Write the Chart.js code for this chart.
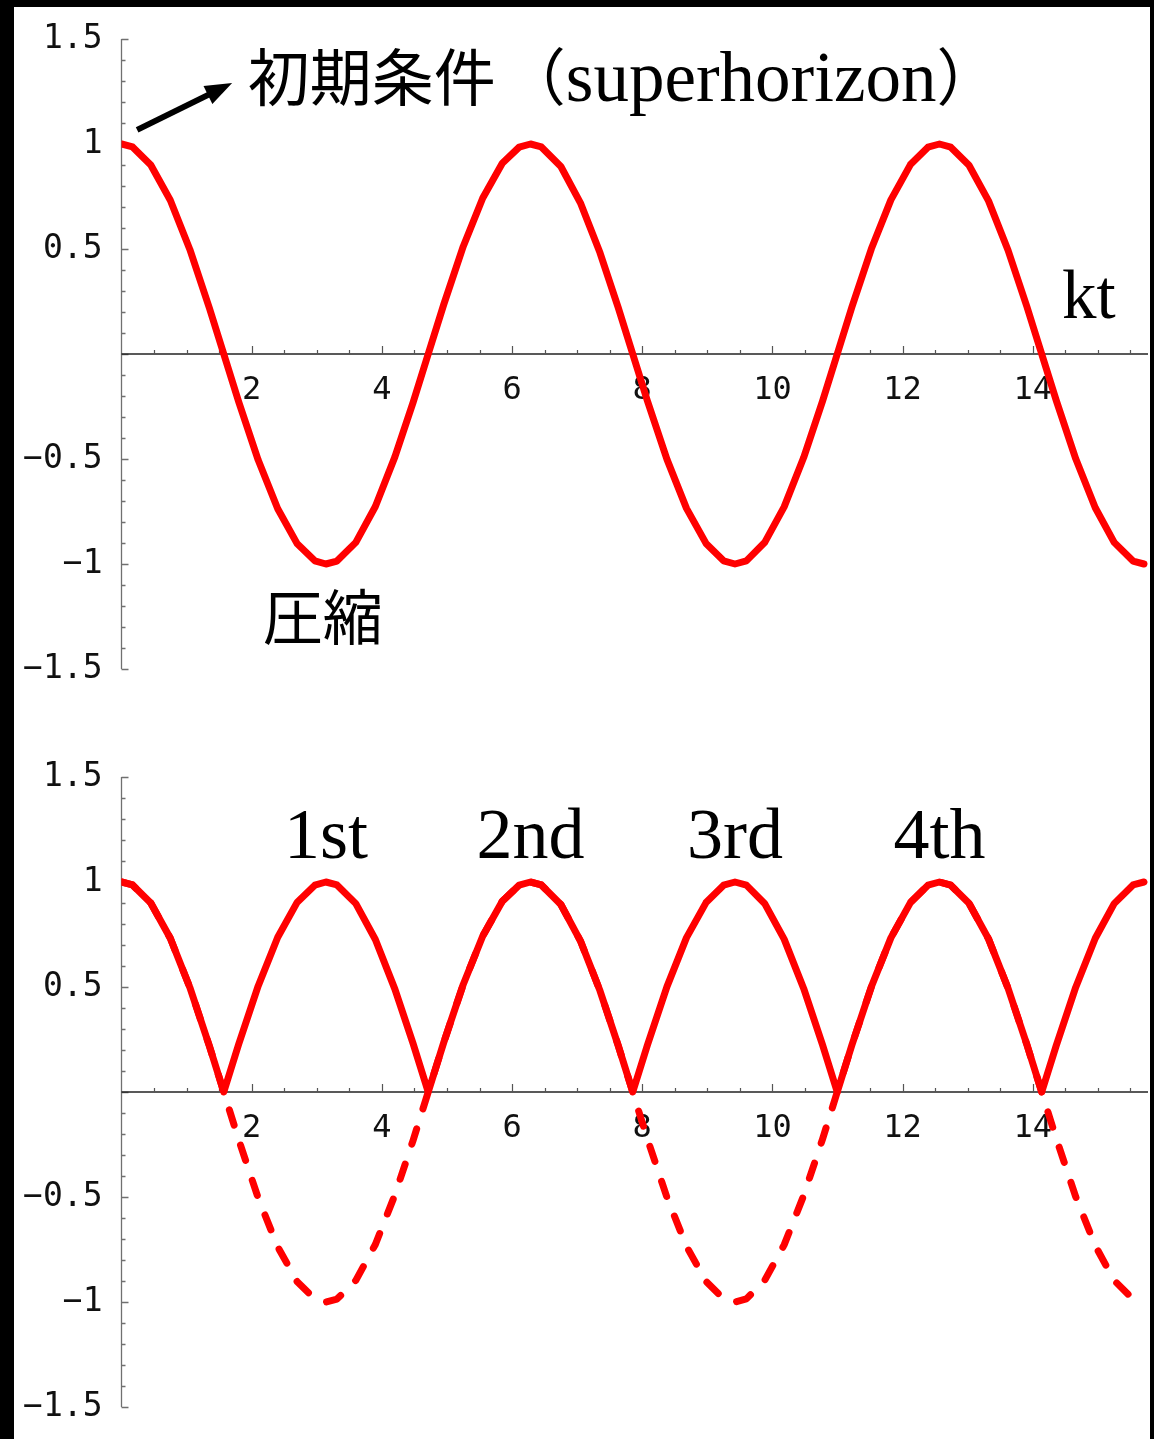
<!DOCTYPE html>
<html lang="ja">
<head>
<meta charset="utf-8">
<title>音響振動</title>
<script src="https://cdn.jsdelivr.net/npm/chart.js@4.4.4/dist/chart.umd.min.js"></script>
<style>
  html, body { margin: 0; padding: 0; background: #000; }
  body { width: 1154px; height: 1439px; position: relative; overflow: hidden; }
  #folha { position: absolute; left: 14px; top: 7px; width: 1136px; height: 1432px; background: #fff; }
  .painel { position: absolute; left: 0; width: 1154px; height: 729px; }
  #painelTopo { top: 0; }
  #painelBase { top: 738px; }
</style>
</head>
<body>
<div id="folha"></div>
<div class="painel" id="painelTopo"><canvas id="graficoTopo"></canvas></div>
<div class="painel" id="painelBase"><canvas id="graficoBase"></canvas></div>

<script>
/* ── Dados: amostras de kt e amplitude da oscilação ── */
const ktGrade = [
  0, 0.17, 0.45, 0.75, 1.05, 1.35, 1.571, 1.8, 2.1, 2.4, 2.7, 2.97, 3.14, 3.31, 3.6, 3.9,
  4.2, 4.48, 4.712, 4.95, 5.25, 5.55, 5.85, 6.11, 6.283, 6.45, 6.75, 7.05, 7.35, 7.63, 7.854,
  8.08, 8.38, 8.68, 8.98, 9.25, 9.425, 9.6, 9.88, 10.18, 10.48, 10.77, 10.996, 11.22, 11.52,
  11.82, 12.12, 12.39, 12.566, 12.74, 13.02, 13.32, 13.62, 13.91, 14.137, 14.36, 14.66, 14.96,
  15.25, 15.54, 15.708
];

/* amplitude (painel de cima e tracejado de baixo) */
const amplitude = [
  1, 0.986, 0.900, 0.732, 0.498, 0.219, 0, -0.227, -0.505, -0.737, -0.904, -0.985, -1, -0.986, -0.897, -0.726,
  -0.490, -0.230, 0, 0.235, 0.512, 0.743, 0.908, 0.985, 1, 0.986, 0.893, 0.720, 0.483, 0.222, 0,
  -0.224, -0.502, -0.735, -0.902, -0.985, -1, -0.985, -0.898, -0.728, -0.493, -0.224, 0, 0.223, 0.501,
  0.734, 0.902, 0.985, 1, 0.985, 0.899, 0.729, 0.494, 0.225, 0, -0.221, -0.499, -0.732,
  -0.897, -0.986, -1
];

/* módulo da amplitude (curva cheia de baixo) */
const amplitudeAbs = [
  1, 0.986, 0.900, 0.732, 0.498, 0.219, 0, 0.227, 0.505, 0.737, 0.904, 0.985, 1, 0.986, 0.897, 0.726,
  0.490, 0.230, 0, 0.235, 0.512, 0.743, 0.908, 0.985, 1, 0.986, 0.893, 0.720, 0.483, 0.222, 0,
  0.224, 0.502, 0.735, 0.902, 0.985, 1, 0.985, 0.898, 0.728, 0.493, 0.224, 0, 0.223, 0.501,
  0.734, 0.902, 0.985, 1, 0.985, 0.899, 0.729, 0.494, 0.225, 0, 0.221, 0.499, 0.732,
  0.897, 0.986, 1
];

/* ── Marcas dos eixos ── */
const rotulosX = [2, 4, 6, 8, 10, 12, 14];
const rotulosY = [-1.5, -1, -0.5, 0.5, 1, 1.5];
const textosY  = ['\u22121.5', '\u22121', '\u22120.5', '0.5', '1', '1.5'];

/* ── Picos numerados do painel de baixo ── */
const ordens  = ['1st', '2nd', '3rd', '4th'];
const picosKt = [3.14, 6.283, 9.425, 12.566];

/* ── Configuração visual ── */
const VERMELHO   = '#ff0000';
const KT_MAX     = 15.77;
const FONTE_EIXO = '"DejaVu Sans Mono", monospace';
const CJK        = '"Noto Sans CJK JP", sans-serif';
const SERIFA     = '"Liberation Serif", serif';

function pares(xs, ys) {
  return xs.map((x, i) => ({ x: x, y: ys[i] }));
}

/* ────────────────────────────────────────────
   eixosCruzados — eixos no estilo Mathematica:
   cruzam na origem, marcas voltadas para dentro
─────────────────────────────────────────────── */
const eixosCruzados = {
  id: 'eixosCruzados',
  beforeDatasetsDraw(chart) {
    const { ctx, scales: { x, y } } = chart;
    const x0 = x.getPixelForValue(0);
    const y0 = y.getPixelForValue(0);
    ctx.save();

    /* eixo vertical + marcas (0.1 menores, 0.5 maiores) */
    ctx.strokeStyle = '#707070';
    ctx.lineWidth = 1.3;
    ctx.beginPath();
    ctx.moveTo(x0, y.getPixelForValue(1.5));
    ctx.lineTo(x0, y.getPixelForValue(-1.5));
    for (let k = -15; k <= 15; k++) {
      const py = Math.round(y.getPixelForValue(k / 10)) + 0.5;
      const len = (k % 5 === 0) ? 7 : 4;
      ctx.moveTo(x0, py);
      ctx.lineTo(x0 + len, py);
    }
    ctx.stroke();

    /* eixo horizontal + marcas (0.5 menores, 2 maiores) */
    ctx.strokeStyle = '#222';
    ctx.lineWidth = 1.5;
    ctx.beginPath();
    ctx.moveTo(x0, y0);
    ctx.lineTo(chart.chartArea.right, y0);
    ctx.stroke();
    ctx.strokeStyle = '#555';
    ctx.lineWidth = 1.2;
    ctx.beginPath();
    for (let k = 1; k * 0.5 <= KT_MAX; k++) {
      const px = Math.round(x.getPixelForValue(k * 0.5)) + 0.5;
      const len = (k % 4 === 0) ? 8 : 4;
      ctx.moveTo(px, y0);
      ctx.lineTo(px, y0 - len);
    }
    ctx.stroke();
    ctx.restore();
  }
};

/* ────────────────────────────────────────────
   anotacoes — textos e seta posicionados em
   coordenadas de dados (kt, amplitude)
─────────────────────────────────────────────── */
const anotacoes = {
  id: 'anotacoes',
  afterDraw(chart, args, opts) {
    const { ctx, scales: { x, y } } = chart;
    ctx.save();
    ctx.fillStyle = '#000';
    ctx.textBaseline = 'alphabetic';
    ctx.textAlign = 'left';

    (opts.textos || []).forEach(item => {
      /* largura total para permitir centralizar */
      let total = 0;
      item.partes.forEach(p => { ctx.font = p.f; total += ctx.measureText(p.t).width + (p.dx || 0); });
      let px = x.getPixelForValue(item.x);
      if (item.alinhar === 'center') px -= total / 2;
      const py = y.getPixelForValue(item.y);
      item.partes.forEach(p => {
        ctx.font = p.f;
        px += p.dx || 0;
        ctx.fillText(p.t, px, py);
        px += ctx.measureText(p.t).width;
      });
    });

    if (opts.seta) {
      const ax = x.getPixelForValue(opts.seta.de[0]);
      const ay = y.getPixelForValue(opts.seta.de[1]);
      const bx = x.getPixelForValue(opts.seta.para[0]);
      const by = y.getPixelForValue(opts.seta.para[1]);
      const ang = Math.atan2(by - ay, bx - ax);
      const cab = 27, meia = 10;
      const baseX = bx - cab * Math.cos(ang);
      const baseY = by - cab * Math.sin(ang);
      ctx.strokeStyle = '#000';
      ctx.lineWidth = 6;
      ctx.beginPath();
      ctx.moveTo(ax, ay);
      ctx.lineTo(baseX + 2 * Math.cos(ang), baseY + 2 * Math.sin(ang));
      ctx.stroke();
      ctx.beginPath();
      ctx.moveTo(bx, by);
      ctx.lineTo(baseX + meia * Math.sin(ang), baseY - meia * Math.cos(ang));
      ctx.lineTo(baseX - meia * Math.sin(ang), baseY + meia * Math.cos(ang));
      ctx.closePath();
      ctx.fill();
    }
    ctx.restore();
  }
};

/* ── Opções comuns dos dois painéis ── */
function opcoes(notas) {
  return {
    responsive: true,
    maintainAspectRatio: false,
    animation: false,
    events: [],
    layout: { padding: { top: 39, right: 6, bottom: 60, left: 0 } },
    plugins: {
      legend:  { display: false },
      tooltip: { enabled: false },
      anotacoes: notas
    },
    scales: {
      x: {
        type: 'linear',
        min: 0,
        max: KT_MAX,
        position: { y: 0 },
        grid:   { display: false, drawTicks: false },
        border: { display: false },
        afterBuildTicks: s => { s.ticks = rotulosX.map(v => ({ value: v })); },
        ticks: {
          autoSkip: false,
          maxRotation: 0,
          padding: 17,
          color: '#111',
          font: { family: FONTE_EIXO, size: 32 },
          callback: v => String(v)
        }
      },
      y: {
        type: 'linear',
        min: -1.5,
        max: 1.5,
        grid:   { display: false, drawTicks: false },
        border: { display: false },
        afterBuildTicks: s => { s.ticks = rotulosY.map(v => ({ value: v })); },
        afterFit: s => { s.width = 121.5; },
        ticks: {
          autoSkip: false,
          padding: 19,
          color: '#111',
          font: { family: FONTE_EIXO, size: 33 },
          callback: v => textosY[rotulosY.indexOf(v)]
        }
      }
    }
  };
}

function linha(dados, extra) {
  return Object.assign({
    data: dados,
    showLine: true,
    borderColor: VERMELHO,
    borderWidth: 7,
    pointRadius: 0,
    tension: 0,
    borderJoinStyle: 'round',
    borderCapStyle: 'round'
  }, extra || {});
}

/* ── Painel de cima: oscilação com condição inicial ── */
new Chart(document.getElementById('graficoTopo'), {
  type: 'scatter',
  data: { datasets: [ linha(pares(ktGrade, amplitude)) ] },
  options: opcoes({
    textos: [
      { x: 1.94, y: 1.205, partes: [
        { t: '初期条件', f: '62px ' + CJK },
        { t: '（', f: '62px ' + CJK, dx: 8 },
        { t: 'superhorizon', f: '71px ' + SERIFA },
        { t: '）', f: '62px ' + CJK }
      ] },
      { x: 14.45, y: 0.171, partes: [ { t: 'kt', f: '69px ' + SERIFA } ] },
      { x: 2.17, y: -1.362, partes: [ { t: '圧縮', f: '60px ' + CJK } ] }
    ],
    seta: { de: [0.24, 1.067], para: [1.70, 1.29] }
  }),
  plugins: [eixosCruzados, anotacoes]
});

/* ── Painel de baixo: módulo (cheio) sobre a oscilação (tracejada) ── */
new Chart(document.getElementById('graficoBase'), {
  type: 'scatter',
  data: {
    datasets: [
      linha(pares(ktGrade, amplitudeAbs)),
      linha(pares(ktGrade, amplitude), { borderDash: [16, 21] })
    ]
  },
  options: opcoes({
    textos: ordens.map((o, i) => ({
      x: picosKt[i], y: 1.114, alinhar: 'center',
      partes: [ { t: o, f: '72px ' + SERIFA } ]
    }))
  }),
  plugins: [eixosCruzados, anotacoes]
});
</script>
</body>
</html>
